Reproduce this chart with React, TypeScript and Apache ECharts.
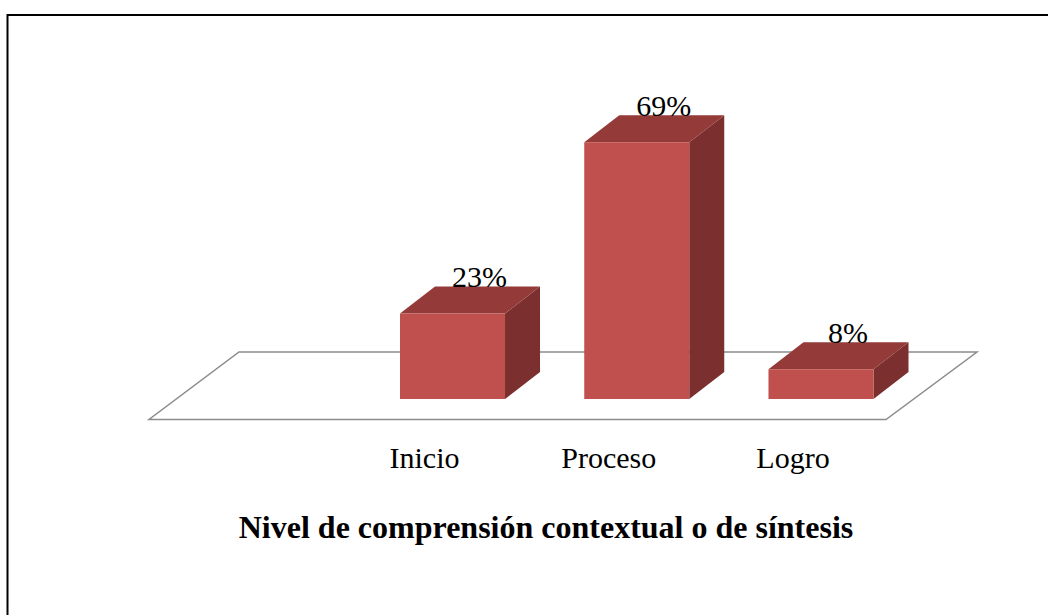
import React, { useEffect, useRef } from "react";
import * as echarts from "echarts";

const categories = ["Inicio", "Proceso", "Logro"];
const values = [23, 69, 8];
const axisTitle = "Nivel de comprensión contextual o de síntesis";

const FRONT = "#C0504D";
const TOP = "#943A38";
const SIDE = "#7B302F";
const FONT = "'Liberation Serif', 'Times New Roman', serif";

export default function App() {
  const ref = useRef<HTMLDivElement>(null);
  useEffect(() => {
    if (!ref.current) return;
    const chart = echarts.init(ref.current, undefined, { renderer: "svg" });
    const dx = 35;
    const dy = -27;
    chart.setOption({
      animation: false,
      backgroundColor: "#fff",
      grid: { left: 360.4, right: 134.9, top: 27, bottom: 216, containLabel: false },
      xAxis: {
        type: "category",
        data: categories,
        axisLine: { show: false },
        axisTick: { show: false },
        splitLine: { show: false },
        axisLabel: {
          margin: 43,
          fontSize: 30,
          fontFamily: FONT,
          color: "#000",
          padding: [0, 56, 0, 0],
        },
      },
      yAxis: { type: "value", min: 0, max: 100, show: false },
      graphic: [
        {
          type: "rect",
          z: 0,
          shape: { x: 7.5, y: 15, width: 1200, height: 800 },
          style: { fill: "none", stroke: "#000", lineWidth: 2 },
          silent: true,
        },
        {
          type: "polygon",
          z: 0,
          shape: { points: [[239, 352], [977, 352], [886, 419.5], [149, 419.5]] },
          style: { fill: "#fff", stroke: "#8C8C8C", lineWidth: 1.5 },
          silent: true,
        },
        {
          type: "text",
          z: 5,
          x: 546,
          y: 527,
          style: {
            text: axisTitle,
            fontSize: 32,
            fontWeight: "bold",
            fontFamily: FONT,
            fill: "#000",
            align: "center",
            verticalAlign: "middle",
          },
        },
      ],
      series: [
        {
          type: "custom",
          z: 3,
          data: categories.map((c, i) => [i, values[i]]),
          encode: { x: 0, y: 1 },
          renderItem: (params: any, api: any) => {
            const cat = api.value(0);
            const val = api.value(1);
            const base = api.coord([cat, 0]);
            const top = api.coord([cat, val]);
            const bw = api.size([1, 0])[0] * 0.57;
            const x0 = base[0] - bw / 2;
            const x1 = base[0] + bw / 2;
            const yb = base[1];
            const yt = top[1];
            return {
              type: "group",
              children: [
                {
                  type: "polygon",
                  shape: { points: [[x1, yt], [x1 + dx, yt + dy], [x1 + dx, yb + dy], [x1, yb]] },
                  style: { fill: SIDE },
                },
                {
                  type: "polygon",
                  shape: { points: [[x0, yt], [x0 + dx, yt + dy], [x1 + dx, yt + dy], [x1, yt]] },
                  style: { fill: TOP },
                },
                {
                  type: "rect",
                  shape: { x: x0, y: yt, width: bw, height: yb - yt },
                  style: { fill: FRONT },
                },
                {
                  type: "text",
                  x: base[0] + 27,
                  y: yt + dy - 10,
                  style: {
                    text: val + "%",
                    fontSize: 30,
                    fontFamily: FONT,
                    fill: "#000",
                    align: "center",
                    verticalAlign: "middle",
                  },
                },
              ],
            };
          },
        },
      ],
    });
    return () => chart.dispose();
  }, []);
  return (
    <div
      ref={ref}
      style={{ position: "fixed", left: 0, top: 0, width: 1048, height: 615 }}
    />
  );
}
